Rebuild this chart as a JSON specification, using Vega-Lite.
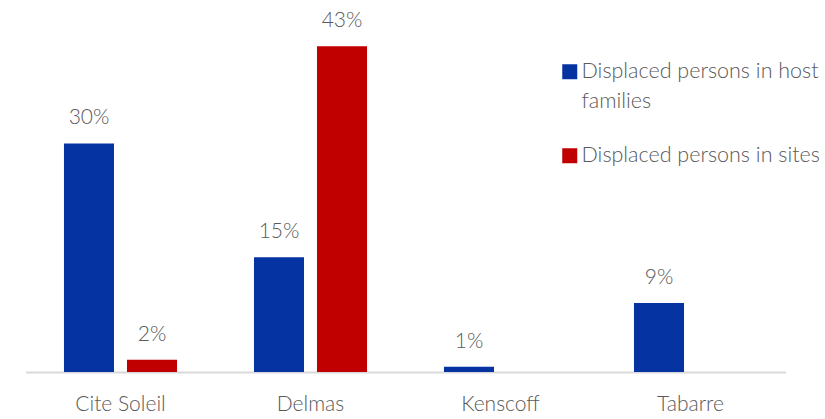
{"$schema":"https://vega.github.io/schema/vega-lite/v6.json","width":760,"height":372,"padding":{"left":25.5,"right":39.5,"top":0,"bottom":47},"autosize":"none","background":"white","config":{"view":{"stroke":null},"font":"Lato"},"data":{"values":[{"c":"Cite Soleil","s":"Displaced persons in host families","v":0.301},{"c":"Cite Soleil","s":"Displaced persons in sites","v":0.016},{"c":"Delmas","s":"Displaced persons in host families","v":0.151},{"c":"Delmas","s":"Displaced persons in sites","v":0.429},{"c":"Kenscoff","s":"Displaced persons in host families","v":0.007},{"c":"Tabarre","s":"Displaced persons in host families","v":0.091}]},"encoding":{"x":{"field":"c","type":"nominal","sort":null,"scale":{"paddingInner":0.405,"paddingOuter":0.2025},"axis":{"title":null,"labelAngle":0,"labelFont":"Lato","labelFontWeight":300,"labelFontSize":21,"labelColor":"#595959","ticks":false,"domainColor":"#d9d9d9","domainWidth":2,"labelPadding":21,"labelLimit":200}},"xOffset":{"field":"s","type":"nominal","scale":{"domain":["Displaced persons in host families","Displaced persons in sites"],"paddingInner":0.206,"paddingOuter":0}},"y":{"field":"v","type":"quantitative","scale":{"domain":[0,0.49]},"axis":null}},"layer":[{"mark":{"type":"bar"},"encoding":{"color":{"field":"s","type":"nominal","scale":{"domain":["Displaced persons in host families","Displaced persons in sites"],"range":["#0533a1","#c00000"]},"legend":{"title":null,"orient":"none","legendX":533.5,"legendY":61,"labelFont":"Lato","labelFontWeight":300,"labelFontSize":21.5,"labelColor":"#595959","symbolType":"square","symbolSize":225,"symbolStrokeWidth":0,"symbolOpacity":1,"labelOffset":1,"labelLimit":260,"rowPadding":31,"labelExpr":"datum.label == 'Displaced persons in host families' ? ['Displaced persons in host','families'] : datum.label","encode":{"labels":{"enter":{"lineHeight":{"value":30}},"update":{"lineHeight":{"value":30}}}}}}}},{"mark":{"type":"text","dy":-25,"font":"Lato","fontWeight":300,"fontSize":21,"color":"#595959"},"encoding":{"text":{"field":"v","type":"quantitative","format":".0%"}}}]}
